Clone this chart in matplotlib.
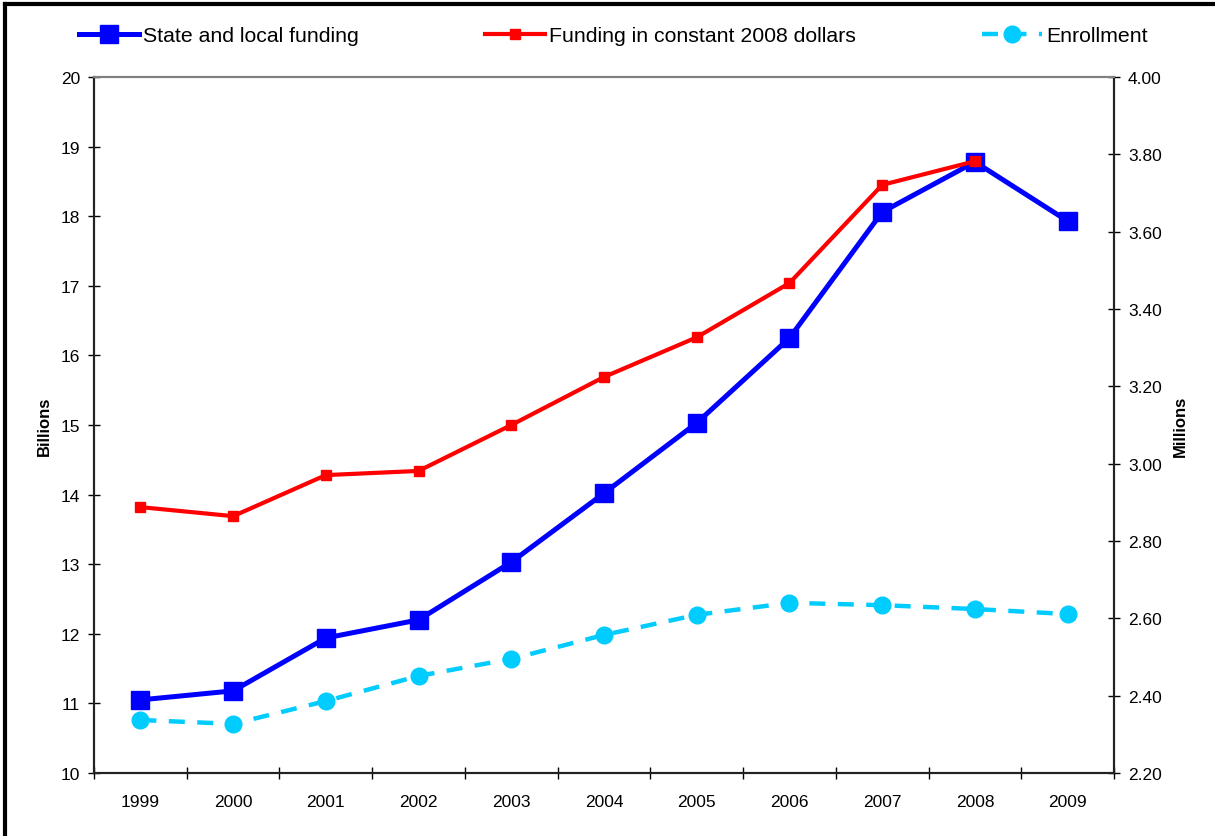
import matplotlib.pyplot as plt
import numpy as np
from matplotlib.lines import Line2D

years = [1999, 2000, 2001, 2002, 2003, 2004, 2005, 2006, 2007, 2008, 2009]
state_local = [11.05, 11.18, 11.94, 12.20, 13.03, 14.02, 15.03, 16.25, 18.06, 18.78, 17.93]
constant_2008 = [13.82, 13.69, 14.28, 14.34, 15.00, 15.69, 16.26, 17.04, 18.45, 18.79]
enrollment = [2.337, 2.327, 2.386, 2.451, 2.495, 2.557, 2.609, 2.640, 2.634, 2.624, 2.611]

plt.rcParams['font.family'] = ['Liberation Sans', 'DejaVu Sans']

fig = plt.figure(figsize=(12.15, 8.37), dpi=100)
ax = fig.add_axes([0.0774, 0.0753, 0.8395, 0.8315])
ax2 = ax.twinx()

x = np.arange(len(years))
l1, = ax.plot(x, state_local, color='#0000FF', lw=3.6, marker='s', ms=13, zorder=3,
              label='State and local funding')
l2, = ax.plot(x[:len(constant_2008)], constant_2008, color='#FF0000', lw=3.0, marker='s', ms=7,
              zorder=4, label='Funding in constant 2008 dollars')
l3, = ax2.plot(x, enrollment, color='#00CCFF', lw=3.2, ls=(0, (3.6, 2.8)), marker='o', ms=12,
               label='Enrollment')

ax.set_xlim(-0.5, len(years) - 0.5)
ax.set_ylim(10, 20)
ax.set_yticks(range(10, 21))
ax2.set_ylim(2.2, 4.0)
ax2.set_yticks(np.arange(2.2, 4.01, 0.2))
ax2.set_yticklabels([f'{v:.2f}' for v in np.arange(2.2, 4.01, 0.2)])

ax.set_xticks(x)
ax.set_xticklabels([str(y) for y in years])
ax.set_xticks(np.arange(-0.5, len(years)), minor=True)
ax.tick_params(axis='x', which='major', length=0, pad=15, labelsize=12.5)
ax.tick_params(axis='x', which='minor', direction='inout', length=8, width=1)
ax.tick_params(axis='y', direction='inout', length=8, width=1, labelsize=12.5, pad=6)
ax2.tick_params(axis='y', direction='inout', length=8, width=1, labelsize=12.5, pad=6)

for a in (ax, ax2):
    a.spines['top'].set_color('#808080')
    a.spines['top'].set_linewidth(1.5)
    for s in ('left', 'right', 'bottom'):
        a.spines[s].set_color('#222222')
        a.spines[s].set_linewidth(1.5)

ax.set_ylabel('Billions', fontsize=12, fontweight='bold', labelpad=6)
ax2.set_ylabel('Millions', fontsize=12, fontweight='bold', labelpad=8)

fig.legend(handles=[l1, l2, l3], loc='upper left', bbox_to_anchor=(0.049, 0.99), ncol=3,
           frameon=False, fontsize=15.3, handlelength=2.85, handletextpad=0.2,
           columnspacing=5.9)

fig.add_artist(Line2D([0.004, 0.004], [0, 0.994], color='black', lw=3, transform=fig.transFigure))
fig.add_artist(Line2D([0.004, 1.0], [0.994, 0.994], color='black', lw=3, transform=fig.transFigure))

plt.savefig('out.png', dpi=100)
